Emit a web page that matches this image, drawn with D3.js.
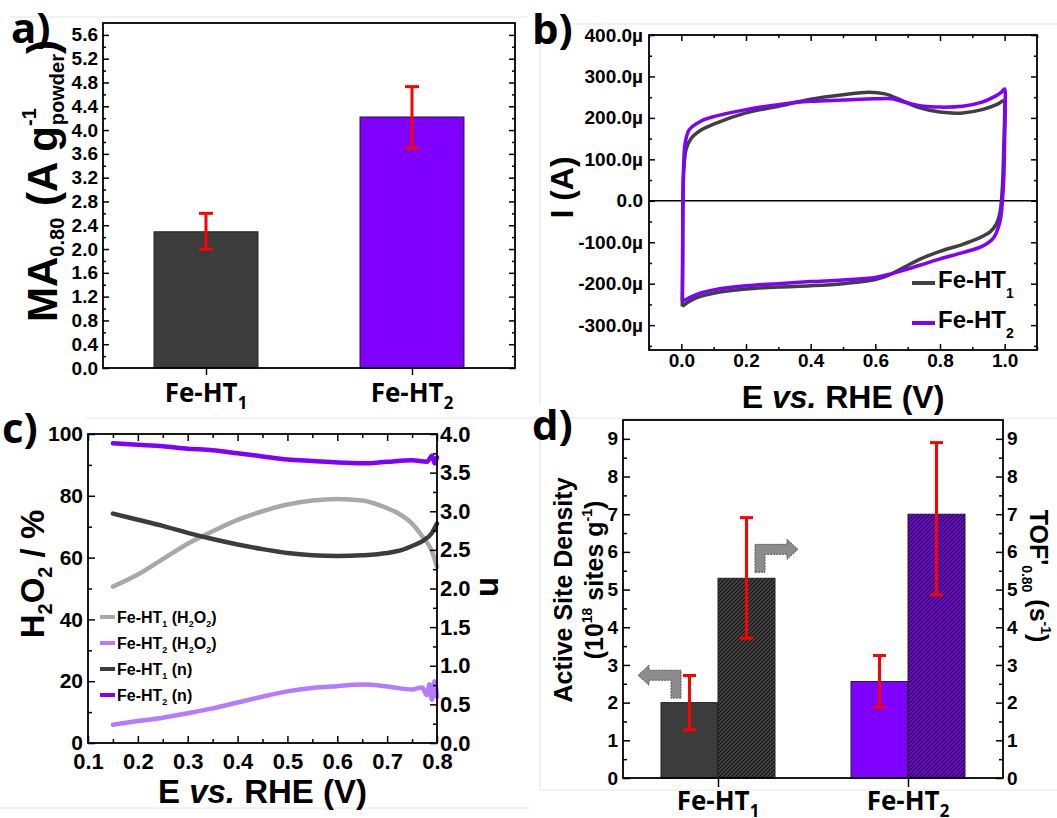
<!DOCTYPE html>
<html>
<head>
<meta charset="utf-8">
<script src="https://cdn.jsdelivr.net/npm/d3@7"></script>
<style>
body { margin: 0; background: #fff; }
svg { font-family: "Liberation Sans", Arial, sans-serif; font-weight: bold; }
.cat, .tag { font-family: "Open Sans", sans-serif; }
</style>
</head>
<body>
<svg id="fig" width="1057" height="818"></svg>
<script>
// ---- data ----
const cats = ["Fe-HT1", "Fe-HT2"];

// a) mass activity at 0.80 V
const maValues = [2.29, 4.22];
const maLow = [2.0, 3.70];
const maHigh = [2.6, 4.73];

// b) cyclic voltammograms, [E (V), I (µA)]
const cvHT1 = [
  [0.003, -255], [0.004, -150], [0.005, 0], [0.008, 80], [0.015, 125], [0.03, 150], [0.06, 170],
  [0.1, 185], [0.2, 212], [0.3, 228], [0.4, 245], [0.5, 256], [0.58, 262], [0.63, 258],
  [0.68, 243], [0.73, 226], [0.8, 214], [0.87, 212], [0.93, 220], [0.98, 234], [0.998, 242],
  [1.0, 225], [0.998, 150], [0.994, 50], [0.99, 0], [0.985, -30], [0.975, -55], [0.955, -75],
  [0.92, -90], [0.87, -105], [0.8, -122], [0.74, -140], [0.69, -160], [0.64, -180], [0.6, -190],
  [0.5, -200], [0.4, -205], [0.3, -208], [0.2, -213], [0.1, -223], [0.05, -233], [0.02, -245],
  [0.003, -255]
];
const cvHT2 = [
  [0.003, -242], [0.004, -150], [0.005, 0], [0.007, 80], [0.012, 140], [0.025, 172], [0.06, 192],
  [0.1, 203], [0.2, 220], [0.3, 232], [0.4, 240], [0.5, 243], [0.6, 246], [0.65, 246],
  [0.7, 236], [0.75, 228], [0.8, 226], [0.87, 228], [0.93, 238], [0.97, 252], [0.99, 262],
  [1.0, 270], [1.002, 240], [1.0, 150], [0.997, 50], [0.993, 0], [0.988, -40], [0.98, -65],
  [0.965, -90], [0.93, -110], [0.87, -125], [0.8, -140], [0.74, -155], [0.69, -167], [0.64, -178],
  [0.6, -185], [0.5, -191], [0.4, -195], [0.3, -200], [0.2, -205], [0.1, -215], [0.05, -225],
  [0.02, -236], [0.003, -242]
];

// c) RRDE: H2O2 (%) and n, [E (V), value]
const h2o2HT1 = [[0.15, 50.6], [0.2, 54.5], [0.25, 59.5], [0.3, 64.5], [0.35, 68.5], [0.4, 72.2],
  [0.45, 75], [0.5, 77.2], [0.55, 78.5], [0.6, 79], [0.65, 78.5], [0.7, 76], [0.72, 74.5],
  [0.75, 71], [0.77, 67], [0.79, 62], [0.8, 57]];
const h2o2HT2 = [[0.15, 5.9], [0.2, 7.1], [0.25, 8.2], [0.3, 9.6], [0.35, 11.2], [0.4, 13.1],
  [0.45, 15], [0.5, 16.7], [0.55, 17.8], [0.6, 18.4], [0.65, 18.9], [0.7, 18.3], [0.75, 17.3],
  [0.77, 18], [0.78, 15.5], [0.785, 19], [0.79, 14], [0.795, 20], [0.8, 15]];
const nHT1 = [[0.15, 2.97], [0.2, 2.89], [0.25, 2.81], [0.3, 2.72], [0.35, 2.64], [0.4, 2.57],
  [0.45, 2.51], [0.5, 2.46], [0.55, 2.43], [0.6, 2.42], [0.65, 2.43], [0.7, 2.46], [0.73, 2.5],
  [0.75, 2.55], [0.77, 2.61], [0.79, 2.72], [0.8, 2.84]];
const nHT2 = [[0.15, 3.88], [0.2, 3.86], [0.25, 3.84], [0.3, 3.81], [0.35, 3.79], [0.4, 3.75],
  [0.45, 3.71], [0.5, 3.67], [0.55, 3.65], [0.6, 3.63], [0.65, 3.62], [0.7, 3.64], [0.75, 3.66],
  [0.78, 3.64], [0.79, 3.72], [0.795, 3.62], [0.8, 3.7]];

// d) active site density and TOF
const sdValues = [2.0, 2.56];
const sdLow = [1.28, 1.88];
const sdHigh = [2.72, 3.25];
const tofValues = [5.3, 7.0];
const tofLow = [3.71, 4.86];
const tofHigh = [6.91, 8.9];

const gray = "#3c3c3c", purple = "#7f00ff", lgray = "#a8a8a8", lpurple = "#b57aff", red = "#ff0000";

const svg = d3.select("#fig");

// faint page seams
[[10, 17, 528, 17], [563, 24, 1057, 24], [540, 25, 540, 405], [85, 418, 1057, 418],
 [0, 808, 530, 808], [540, 420, 540, 790], [540, 790, 1057, 790]].forEach(l => {
  svg.append("line").attr("x1", l[0]).attr("y1", l[1]).attr("x2", l[2]).attr("y2", l[3])
    .attr("stroke", "#e4e4e4").attr("stroke-width", 1);
});

const defs = svg.append("defs");
function hatch(id, base) {
  const p = defs.append("pattern").attr("id", id).attr("patternUnits", "userSpaceOnUse")
    .attr("width", 4).attr("height", 4);
  p.append("rect").attr("width", 4).attr("height", 4).attr("fill", base);
  p.append("path").attr("d", "M-1,1 l2,-2 M0,4 l4,-4 M3,5 l2,-2")
    .attr("stroke", "#111").attr("stroke-width", 1.1);
}
hatch("hGray", "#454545");
hatch("hPurple", "#7a00f0");

function axis(g, ax, size) {
  g.call(ax);
  g.attr("font-family", null).attr("font-size", size);
  g.select(".domain").remove();
  g.selectAll("line").attr("stroke-width", 1.5);
}

function frame(x0, y0, x1, y1) {
  svg.append("rect").attr("x", x0).attr("y", y0).attr("width", x1 - x0).attr("height", y1 - y0)
    .attr("fill", "none").attr("stroke", "#000").attr("stroke-width", 1.8);
}

function errBar(x, yLo, yHi, cap) {
  const g = svg.append("g").attr("stroke", red).attr("stroke-width", 3);
  g.append("line").attr("x1", x).attr("x2", x).attr("y1", yLo).attr("y2", yHi);
  g.append("line").attr("x1", x - cap / 2).attr("x2", x + cap / 2).attr("y1", yLo).attr("y2", yLo);
  g.append("line").attr("x1", x - cap / 2).attr("x2", x + cap / 2).attr("y1", yHi).attr("y2", yHi);
}

function catLabel(x, y, name, size) {
  const t = svg.append("text").attr("class", "cat").attr("x", x).attr("y", y)
    .attr("text-anchor", "middle").attr("font-size", size);
  t.append("tspan").text(name.slice(0, -1));
  t.append("tspan").attr("dy", 7).attr("font-size", size * 0.65).text(name.slice(-1));
}

function tag(x, y, s) {
  svg.append("text").attr("class", "tag").attr("x", x).attr("y", y)
    .attr("font-size", 42).text(s);
}

// ===== a) =====
{
  const L = 103, R = 515, T = 23, B = 368;
  const x = d3.scalePoint().domain(cats).range([L, R]).padding(0.5);
  const y = d3.scaleLinear().domain([0, 5.8]).range([B, T]);
  const bw = 104;
  svg.selectAll(".barA").data(cats).join("rect")
    .attr("x", d => x(d) - bw / 2).attr("width", bw)
    .attr("y", (d, i) => y(maValues[i])).attr("height", (d, i) => B - y(maValues[i]))
    .attr("fill", (d, i) => i ? purple : gray).attr("stroke", "#222").attr("stroke-width", 1);
  cats.forEach((c, i) => errBar(x(c), y(maLow[i]), y(maHigh[i]), 14));

  const major = d3.range(0, 5.61, 0.4), minor = d3.range(0.2, 5.8, 0.4);
  axis(svg.append("g").attr("transform", `translate(${L},0)`),
    d3.axisLeft(y).tickValues(major).tickSize(-6).tickPadding(5).tickFormat(d3.format(".1f")), 19);
  axis(svg.append("g").attr("transform", `translate(${L},0)`),
    d3.axisLeft(y).tickValues(minor).tickSize(-3).tickFormat(""), 19);
  axis(svg.append("g").attr("transform", `translate(${R},0)`),
    d3.axisRight(y).tickValues(major).tickSize(-6).tickFormat(""), 19);
  axis(svg.append("g").attr("transform", `translate(${R},0)`),
    d3.axisRight(y).tickValues(minor).tickSize(-3).tickFormat(""), 19);
  axis(svg.append("g").attr("transform", `translate(0,${B})`),
    d3.axisBottom(x).tickSize(7).tickFormat(""), 19);
  frame(L, T, R, B);
  cats.forEach(c => catLabel(x(c), 402, c, 26));

  const t = svg.append("text").attr("transform", "translate(57,322) rotate(-90)").attr("font-size", 42);
  t.append("tspan").text("MA");
  t.append("tspan").attr("font-size", 20).attr("dy", 7).text("0.80");
  t.append("tspan").attr("dy", -7).text(" (A g");
  t.append("tspan").attr("font-size", 20).attr("dy", -21).text("-1");
  t.append("tspan").attr("font-size", 20).attr("dx", -17).attr("dy", 28).text("powder");
  t.append("tspan").attr("dy", -7).text(")");
  tag(11, 43, "a)");
}

// ===== b) =====
{
  const L = 649, R = 1037, T = 35, B = 350;
  const x = d3.scaleLinear().domain([-0.1, 1.1]).range([L, R]);
  const y = d3.scaleLinear().domain([-360, 400]).range([B, T]);
  svg.append("line").attr("x1", L).attr("x2", R).attr("y1", y(0)).attr("y2", y(0))
    .attr("stroke", "#000").attr("stroke-width", 1.5);
  const line = d3.line().x(d => x(d[0])).y(d => y(d[1])).curve(d3.curveCatmullRom.alpha(0.5));
  svg.append("path").datum(cvHT1).attr("d", line).attr("fill", "none")
    .attr("stroke", "#404040").attr("stroke-width", 3.5);
  svg.append("path").datum(cvHT2).attr("d", line).attr("fill", "none")
    .attr("stroke", purple).attr("stroke-width", 3.5);

  const yMaj = d3.range(-300, 401, 100), yMin = d3.range(-350, 400, 100);
  const xMaj = d3.range(0, 1.01, 0.2), xMin = d3.range(-0.1, 1.11, 0.2);
  const fmt = d => Math.abs(d) < 1e-9 ? "0.0" : d.toFixed(1) + "µ";
  axis(svg.append("g").attr("transform", `translate(${L},0)`),
    d3.axisLeft(y).tickValues(yMaj).tickSize(-6).tickPadding(6).tickFormat(fmt), 19);
  axis(svg.append("g").attr("transform", `translate(${L},0)`),
    d3.axisLeft(y).tickValues(yMin).tickSize(-3).tickFormat(""), 19);
  axis(svg.append("g").attr("transform", `translate(${R},0)`),
    d3.axisRight(y).tickValues(yMaj).tickSize(-6).tickFormat(""), 19);
  axis(svg.append("g").attr("transform", `translate(${R},0)`),
    d3.axisRight(y).tickValues(yMin).tickSize(-3).tickFormat(""), 19);
  axis(svg.append("g").attr("transform", `translate(0,${B})`),
    d3.axisBottom(x).tickValues(xMaj).tickSize(-6).tickPadding(4).tickFormat(d3.format(".1f")), 19);
  axis(svg.append("g").attr("transform", `translate(0,${B})`),
    d3.axisBottom(x).tickValues(xMin).tickSize(-3).tickFormat(""), 19);
  axis(svg.append("g").attr("transform", `translate(0,${T})`),
    d3.axisTop(x).tickValues(xMaj).tickSize(-6).tickFormat(""), 19);
  axis(svg.append("g").attr("transform", `translate(0,${T})`),
    d3.axisTop(x).tickValues(xMin).tickSize(-3).tickFormat(""), 19);
  frame(L, T, R, B);

  [["Fe-HT1", "#404040", 283], ["Fe-HT2", purple, 323]].forEach(([n, c, ly]) => {
    svg.append("line").attr("x1", 912).attr("x2", 935).attr("y1", ly).attr("y2", ly)
      .attr("stroke", c).attr("stroke-width", 4);
    const t = svg.append("text").attr("x", 938).attr("y", ly + 5).attr("font-size", 24);
    t.append("tspan").text(n.slice(0, -1));
    t.append("tspan").attr("font-size", 14).attr("dy", 10).text(n.slice(-1));
  });

  const xt = svg.append("text").attr("x", (L + R) / 2).attr("y", 408).attr("text-anchor", "middle")
    .attr("font-size", 32);
  xt.append("tspan").text("E ");
  xt.append("tspan").attr("font-style", "italic").text("vs.");
  xt.append("tspan").text(" RHE (V)");
  svg.append("text").attr("transform", `translate(573,${(T + B) / 2 - 5}) rotate(-90)`)
    .attr("text-anchor", "middle").attr("font-size", 32).text("I (A)");
  tag(532, 44, "b)");
}

// ===== c) =====
{
  const L = 88, R = 437, T = 434, B = 743;
  const x = d3.scaleLinear().domain([0.1, 0.8]).range([L, R]);
  const yL = d3.scaleLinear().domain([0, 100]).range([B, T]);
  const yR = d3.scaleLinear().domain([0, 4]).range([B, T]);
  const lineL = d3.line().x(d => x(d[0])).y(d => yL(d[1])).curve(d3.curveMonotoneX);
  const lineR = d3.line().x(d => x(d[0])).y(d => yR(d[1])).curve(d3.curveMonotoneX);
  const g = svg.append("g").attr("fill", "none").attr("stroke-width", 4.5).attr("stroke-linecap", "round");
  g.append("path").datum(h2o2HT1).attr("d", lineL).attr("stroke", lgray);
  g.append("path").datum(h2o2HT2).attr("d", lineL).attr("stroke", lpurple);
  g.append("path").datum(nHT1).attr("d", lineR).attr("stroke", gray);
  g.append("path").datum(nHT2).attr("d", lineR).attr("stroke", purple);

  const xMaj = d3.range(0.1, 0.81, 0.1), xMin = d3.range(0.15, 0.8, 0.1);
  axis(svg.append("g").attr("transform", `translate(0,${B})`),
    d3.axisBottom(x).tickValues(xMaj).tickSize(-7).tickPadding(10).tickFormat(d3.format(".1f")), 22);
  axis(svg.append("g").attr("transform", `translate(0,${B})`),
    d3.axisBottom(x).tickValues(xMin).tickSize(-4).tickFormat(""), 22);
  axis(svg.append("g").attr("transform", `translate(0,${T})`),
    d3.axisTop(x).tickValues(xMaj).tickSize(-7).tickFormat(""), 22);
  axis(svg.append("g").attr("transform", `translate(0,${T})`),
    d3.axisTop(x).tickValues(xMin).tickSize(-4).tickFormat(""), 22);
  axis(svg.append("g").attr("transform", `translate(${L},0)`),
    d3.axisLeft(yL).tickValues(d3.range(0, 101, 20)).tickSize(-7).tickPadding(5).tickFormat(d3.format("d")), 21);
  axis(svg.append("g").attr("transform", `translate(${L},0)`),
    d3.axisLeft(yL).tickValues(d3.range(10, 100, 20)).tickSize(-4).tickFormat(""), 21);
  axis(svg.append("g").attr("transform", `translate(${R},0)`),
    d3.axisRight(yR).tickValues(d3.range(0, 4.01, 0.5)).tickSize(-7).tickPadding(3).tickFormat(d3.format(".1f")), 22);
  axis(svg.append("g").attr("transform", `translate(${R},0)`),
    d3.axisRight(yR).tickValues(d3.range(0.25, 4, 0.5)).tickSize(-4).tickFormat(""), 22);
  frame(L, T, R, B);

  const leg = [["Fe-HT1", " (H", "O", ")", lgray], ["Fe-HT2", " (H", "O", ")", lpurple],
               ["Fe-HT1", " (n)", null, null, gray], ["Fe-HT2", " (n)", null, null, purple]];
  leg.forEach((l, i) => {
    const ly = 617 + i * 26;
    svg.append("line").attr("x1", 100).attr("x2", 115).attr("y1", ly).attr("y2", ly)
      .attr("stroke", l[4]).attr("stroke-width", 4);
    const t = svg.append("text").attr("x", 117).attr("y", ly + 6).attr("font-size", 16);
    t.append("tspan").text(l[0].slice(0, -1));
    t.append("tspan").attr("font-size", 9).attr("dy", 4).text(l[0].slice(-1));
    t.append("tspan").attr("dy", -4).text(l[1]);
    if (l[2]) {
      t.append("tspan").attr("font-size", 9).attr("dy", 4).text("2");
      t.append("tspan").attr("dy", -4).text(l[2]);
      t.append("tspan").attr("font-size", 9).attr("dy", 4).text("2");
      t.append("tspan").attr("dy", -4).text(l[3]);
    }
  });

  const xt = svg.append("text").attr("x", (L + R) / 2).attr("y", 803).attr("text-anchor", "middle")
    .attr("font-size", 33);
  xt.append("tspan").text("E ");
  xt.append("tspan").attr("font-style", "italic").text("vs.");
  xt.append("tspan").text(" RHE (V)");
  const yt = svg.append("text").attr("transform", `translate(44,574) rotate(-90)`)
    .attr("text-anchor", "middle").attr("font-size", 33);
  yt.append("tspan").text("H");
  yt.append("tspan").attr("font-size", 20).attr("dy", 8).text("2");
  yt.append("tspan").attr("dy", -8).text("O");
  yt.append("tspan").attr("font-size", 20).attr("dy", 8).text("2");
  yt.append("tspan").attr("dy", -8).text(" / %");
  svg.append("text").attr("transform", `translate(480,587) rotate(90)`)
    .attr("text-anchor", "middle").attr("font-size", 33).text("n");
  tag(2, 443, "c)");
}

// ===== d) =====
{
  const L = 623, R = 1003, T = 420, B = 778;
  const x = d3.scalePoint().domain(cats).range([L, R]).padding(0.5);
  const y = d3.scaleLinear().domain([0, 9.5]).range([B, T]);
  const bw = 57;
  svg.selectAll(".barSD").data(cats).join("rect")
    .attr("x", d => x(d) - bw).attr("width", bw)
    .attr("y", (d, i) => y(sdValues[i])).attr("height", (d, i) => B - y(sdValues[i]))
    .attr("fill", (d, i) => i ? purple : gray).attr("stroke", "#222").attr("stroke-width", 1);
  svg.selectAll(".barTOF").data(cats).join("rect")
    .attr("x", d => x(d)).attr("width", bw)
    .attr("y", (d, i) => y(tofValues[i])).attr("height", (d, i) => B - y(tofValues[i]))
    .attr("fill", (d, i) => i ? "url(#hPurple)" : "url(#hGray)").attr("stroke", "#222").attr("stroke-width", 1);
  cats.forEach((c, i) => {
    errBar(x(c) - bw / 2, y(sdLow[i]), y(sdHigh[i]), 13);
    errBar(x(c) + bw / 2, y(tofLow[i]), y(tofHigh[i]), 13);
  });

  // bent arrows pointing to each axis
  const c1 = x(cats[0]);
  function bentArrow(sx, yBottom, yTop, dir) {
    const w = 10, head = 11, len = 22;
    const tip = sx + dir * (w / 2 + len + head);
    const hb = sx + dir * (w / 2 + len);
    const back = sx - dir * w / 2, front = sx + dir * w / 2;
    const pts = [[back, yBottom], [front, yBottom], [front, yTop + w], [hb, yTop + w], [hb, yTop + w + 5],
      [tip, yTop + w / 2], [hb, yTop - 5], [hb, yTop], [back, yTop]];
    svg.append("path").attr("d", "M" + pts.map(p => p.join(",")).join("L") + "Z")
      .attr("fill", "#8c8c8c").attr("stroke", "#555").attr("stroke-width", 1)
      .attr("stroke-dasharray", "2,1");
  }
  bentArrow(c1 - 42, y(2.12), y(2.86), -1);
  bentArrow(c1 + 42, y(5.46), y(6.2), 1);

  const major = d3.range(0, 9.01, 1), minor = d3.range(0.5, 9.5, 1);
  axis(svg.append("g").attr("transform", `translate(${L},0)`),
    d3.axisLeft(y).tickValues(major).tickSize(-7).tickPadding(5).tickFormat(d3.format("d")), 19);
  axis(svg.append("g").attr("transform", `translate(${L},0)`),
    d3.axisLeft(y).tickValues(minor).tickSize(-4).tickFormat(""), 19);
  axis(svg.append("g").attr("transform", `translate(${R},0)`),
    d3.axisRight(y).tickValues(major).tickSize(-7).tickPadding(4).tickFormat(d3.format("d")), 19);
  axis(svg.append("g").attr("transform", `translate(${R},0)`),
    d3.axisRight(y).tickValues(minor).tickSize(-4).tickFormat(""), 19);
  axis(svg.append("g").attr("transform", `translate(0,${B})`),
    d3.axisBottom(x).tickSize(9).tickFormat(""), 19);
  frame(L, T, R, B);
  cats.forEach(c => catLabel(x(c), 810, c, 26));

  svg.append("text").attr("transform", "translate(572,590) rotate(-90)").attr("text-anchor", "middle")
    .attr("font-size", 25).text("Active Site Density");
  const t2 = svg.append("text").attr("transform", "translate(603,580) rotate(-90)").attr("text-anchor", "middle")
    .attr("font-size", 25);
  t2.append("tspan").text("(10");
  t2.append("tspan").attr("font-size", 14).attr("dy", -11).text("18");
  t2.append("tspan").attr("dy", 11).text(" sites g");
  t2.append("tspan").attr("font-size", 14).attr("dy", -11).text("-1");
  t2.append("tspan").attr("dy", 11).text(")");
  const t3 = svg.append("text").attr("transform", "translate(1030,576) rotate(90)").attr("text-anchor", "middle")
    .attr("font-size", 25);
  t3.append("tspan").text("TOF'");
  t3.append("tspan").attr("font-size", 14).attr("dy", 8).text("0.80");
  t3.append("tspan").attr("dy", -8).text(" (s");
  t3.append("tspan").attr("font-size", 14).attr("dy", -11).text("-1");
  t3.append("tspan").attr("dy", 11).text(")");
  tag(532, 440, "d)");
}
</script>
</body>
</html>
